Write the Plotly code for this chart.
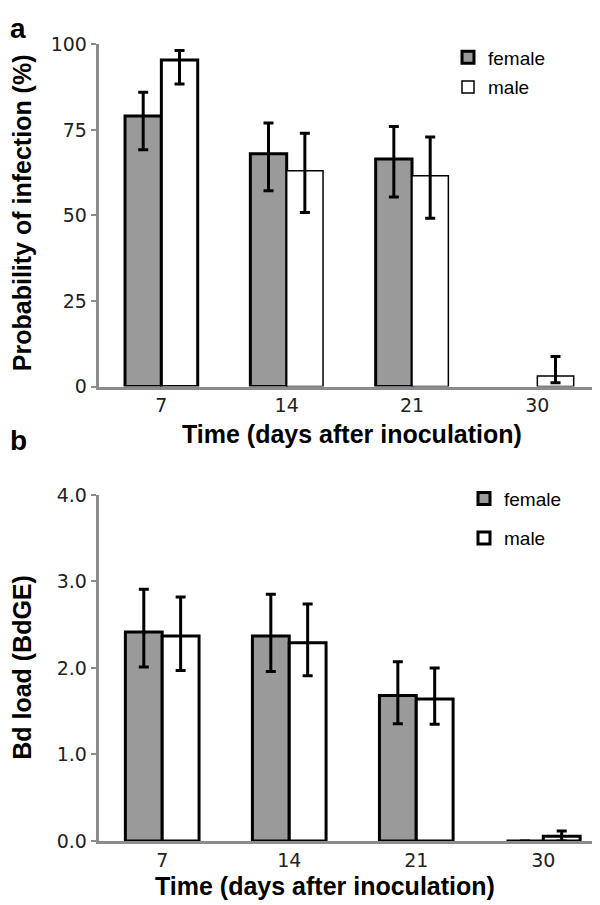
import plotly.graph_objects as go

# ---- data ----
days = ["7", "14", "21", "30"]

# panel a: probability of infection (%)
# no infected females at day 30: nothing is drawn there in the original (None)
inf_female = [79.1, 68.0, 66.5, None]
inf_female_plus = [6.9, 9.0, 9.5, 0.0]
inf_female_minus = [9.9, 10.8, 11.1, 0.0]
inf_male = [95.4, 63.1, 61.6, 3.1]
inf_male_plus = [2.8, 10.9, 11.3, 5.7]
inf_male_minus = [7.0, 12.2, 12.4, 2.0]

# panel b: Bd load (BdGE)
load_female = [2.415, 2.37, 1.68, 0.0]
load_female_plus = [0.495, 0.48, 0.39, 0.0]
load_female_minus = [0.405, 0.41, 0.325, 0.0]
load_male = [2.37, 2.29, 1.64, 0.054]
load_male_plus = [0.45, 0.45, 0.36, 0.061]
load_male_minus = [0.40, 0.38, 0.29, 0.054]

FONT = "Liberation Sans, Arial, sans-serif"
TICK_FONT = "DejaVu Sans, Verdana, sans-serif"
GRAY_FILL = "#9a9a9a"
AXIS_GRAY = "#8c8c8c"

W, H = 600, 905

# per-bar outline widths (panel a males: only day 7 has a heavy outline)
inf_male_lw = [3, 1.5, 1.5, 1.5]


def err(plus, minus):
    return dict(type="data", symmetric=False, array=plus, arrayminus=minus,
                color="black", thickness=3, width=5)


def pick(seq, order):
    return [seq[i] for i in order]


fig = go.Figure()

fig.add_trace(go.Bar(
    x=days, y=inf_female, name="female", xaxis="x", yaxis="y", legend="legend",
    legendgroup="fa",
    marker=dict(color=GRAY_FILL, line=dict(color="black", width=3)),
    error_y=err(inf_female_plus, inf_female_minus)))

# trace points listed starting with a thin-outlined bar so the legend swatch is thin
m_order = [1, 2, 3, 0]
fig.add_trace(go.Bar(
    x=pick(days, m_order), y=pick(inf_male, m_order), name="male",
    xaxis="x", yaxis="y", legend="legend", legendgroup="ma",
    marker=dict(color="white", line=dict(color="black", width=pick(inf_male_lw, m_order))),
    error_y=err(pick(inf_male_plus, m_order), pick(inf_male_minus, m_order))))

fig.add_trace(go.Bar(
    x=days, y=load_female, name="female", xaxis="x2", yaxis="y2", legend="legend2",
    legendgroup="fb",
    marker=dict(color=GRAY_FILL, line=dict(color="black", width=3)),
    error_y=err(load_female_plus, load_female_minus)))
fig.add_trace(go.Bar(
    x=days, y=load_male, name="male", xaxis="x2", yaxis="y2", legend="legend2",
    legendgroup="mb",
    marker=dict(color="white", line=dict(color="black", width=3)),
    error_y=err(load_male_plus, load_male_minus)))

xcommon = dict(type="category", categoryorder="array", categoryarray=days,
               showline=True, linecolor=AXIS_GRAY, linewidth=3,
               ticks="", showgrid=False, zeroline=False,
               tickfont=dict(family=TICK_FONT, size=19, color="#222"),
               range=[-0.5, 3.5])
ycommon = dict(showline=True, linecolor=AXIS_GRAY, linewidth=3, ticks="outside",
               tickcolor=AXIS_GRAY, ticklen=5, tickwidth=2, showgrid=False,
               zeroline=False, tickfont=dict(family=TICK_FONT, size=19, color="#222"))

TITLE_FONT = dict(family=FONT, size=25, color="black")


def px_x(v):
    return v / W


def px_y(v):
    return 1 - v / H


fig.update_layout(
    width=W, height=H,
    margin=dict(l=0, r=0, t=0, b=0),
    paper_bgcolor="white", plot_bgcolor="white",
    barmode="group", bargap=0.42, bargroupgap=0,
    font=dict(family=FONT, color="black"),
    xaxis=dict(xcommon, domain=[px_x(90.7), px_x(592)], anchor="y"),
    yaxis=dict(ycommon, domain=[px_y(376.7), px_y(26)], anchor="x",
               range=[0, 100], tickvals=[0, 25, 50, 75, 100]),
    xaxis2=dict(xcommon, domain=[px_x(90.7), px_x(598.8)], anchor="y2"),
    yaxis2=dict(ycommon, domain=[px_y(842.5), px_y(487.7)], anchor="x2",
                range=[0, 4], tickvals=[0, 1, 2, 3, 4], tickformat=".1f"),
    legend=dict(x=px_x(440), y=px_y(20), xanchor="left", yanchor="top",
                bgcolor="rgba(0,0,0,0)", tracegroupgap=2, itemwidth=30,
                font=dict(family=FONT, size=19, color="black")),
    legend2=dict(x=px_x(456), y=px_y(472), xanchor="left", yanchor="top",
                 bgcolor="rgba(0,0,0,0)", tracegroupgap=12, itemwidth=30,
                 font=dict(family=FONT, size=19, color="black")),
    annotations=[
        dict(text="<b>a</b>", x=0, y=1, xref="paper", yref="paper", xanchor="left",
             yanchor="top", showarrow=False, font=dict(family=FONT, size=28, color="black"),
             yshift=8),
        dict(text="<b>b</b>", x=0, y=px_y(414), xref="paper", yref="paper",
             xanchor="left", yanchor="top", showarrow=False,
             font=dict(family=FONT, size=28, color="black")),
        # axis titles
        dict(text="<b>Time (days after inoculation)</b>", x=px_x(344), y=px_y(425),
             xref="paper", yref="paper", xanchor="center", yanchor="middle",
             showarrow=False, font=TITLE_FONT),
        dict(text="<b>Time (days after inoculation)</b>", x=px_x(316.5), y=px_y(889),
             xref="paper", yref="paper", xanchor="center", yanchor="middle",
             showarrow=False, font=TITLE_FONT),
        dict(text="<b>Probability of infection (%)</b>", x=px_x(14), y=px_y(199),
             xref="paper", yref="paper", xanchor="center", yanchor="middle",
             textangle=-90, showarrow=False, font=TITLE_FONT),
        dict(text="<b>Bd load (BdGE)</b>", x=px_x(14), y=px_y(665),
             xref="paper", yref="paper", xanchor="center", yanchor="middle",
             textangle=-90, showarrow=False, font=TITLE_FONT),
    ],
)

fig.write_html("out.html")
